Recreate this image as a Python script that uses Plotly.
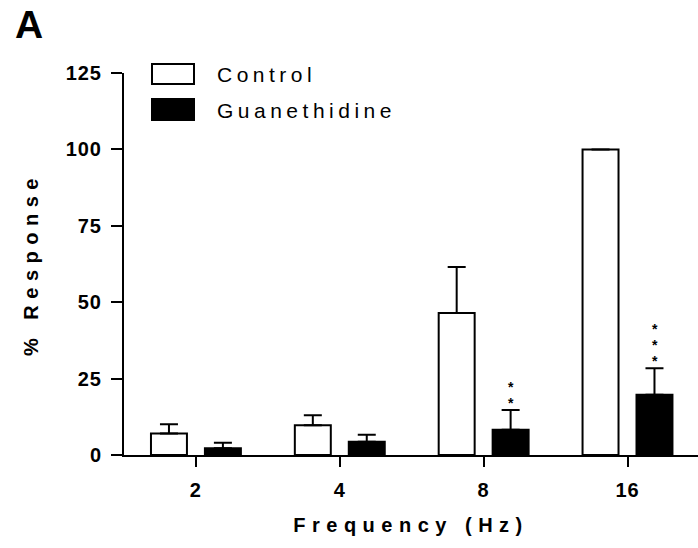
import plotly.graph_objects as go

# ---- data ----
frequencies = ["2", "4", "8", "16"]
control_mean = [7.0, 9.7, 46.5, 100.0]
control_sem = [3.1, 3.3, 15.0, 0.0]
guan_mean = [2.2, 4.3, 8.3, 19.7]
guan_sem = [1.8, 2.3, 6.4, 8.7]
guan_sig = ["", "", "**", "***"]
y_ticks = [0, 25, 50, 75, 100, 125]
series_names = ["Control", "Guanethidine"]

W, H = 698, 548
L, R, T, B = 124, 0, 73, 548 - 455
pw, ph = W - L - R, H - T - B

def px_x(x):
    return (x - L) / pw

def px_y(y):
    return (H - B - y) / ph

xpos = list(range(len(frequencies)))

tick_font = dict(family="Liberation Sans, Arial", size=20, color="black", weight="bold")
title_font = dict(family="Liberation Sans, Arial", size=20, color="black", weight="bold")

fig = go.Figure()
fig.add_trace(go.Bar(
    x=xpos, y=control_mean, name=series_names[0],
    marker=dict(color="white", line=dict(color="black", width=2)),
    error_y=dict(type="data", array=control_sem, arrayminus=[0] * len(control_sem), symmetric=False,
                 color="black", thickness=2, width=9),
    showlegend=False,
))
fig.add_trace(go.Bar(
    x=xpos, y=guan_mean, name=series_names[1],
    marker=dict(color="black", line=dict(color="black", width=2)),
    error_y=dict(type="data", array=guan_sem, arrayminus=[0] * len(guan_sem), symmetric=False,
                 color="black", thickness=2, width=9),
    showlegend=False,
))

annotations = []
# significance stars above guanethidine bars (one stacked text per bar)
for i, (m, e, s) in enumerate(zip(guan_mean, guan_sem, guan_sig)):
    if s:
        annotations.append(dict(
            x=xpos[i], y=m + e, xref="x", yref="y", text="<br>".join(s), showarrow=False,
            xshift=27, yshift=-3, yanchor="bottom", xanchor="center",
            font=dict(family="Liberation Sans, Arial", size=14, color="black", weight="bold"),
        ))

# legend (drawn manually to match wide swatches)
legend_rows = [(64, 84, "white"), (99, 120, "black")]
shapes = []
for (y0, y1, col), name in zip(legend_rows, series_names):
    shapes.append(dict(type="rect", xref="paper", yref="paper",
                       x0=px_x(152), x1=px_x(194), y0=px_y(y1), y1=px_y(y0),
                       fillcolor=col, line=dict(color="black", width=2)))
    annotations.append(dict(x=px_x(215), y=px_y((y0 + y1) / 2 + 1), xref="paper", yref="paper",
                            text=name, showarrow=False, xanchor="left", yanchor="middle",
                            font=dict(family="Liberation Sans, Arial", size=21, color="black")))

# panel letter
annotations.append(dict(x=px_x(13), y=px_y(1), xref="paper", yref="paper", text="A",
                        showarrow=False, xanchor="left", yanchor="top",
                        font=dict(family="Liberation Sans, Arial", size=39, color="black", weight="bold")))

fig.update_layout(
    width=W, height=H,
    margin=dict(l=L, r=R, t=T, b=B),
    paper_bgcolor="white", plot_bgcolor="white",
    barmode="group", bargap=0.25, bargroupgap=1 / 3,
    annotations=annotations, shapes=shapes,
    xaxis=dict(range=[-0.5, 3.49], tickvals=xpos, ticktext=frequencies,
               showline=True, linecolor="black", linewidth=2,
               ticks="outside", ticklen=10, tickwidth=2, tickcolor="black", showgrid=False,
               zeroline=False, tickfont=tick_font, ticklabelstandoff=6,
               title=dict(text="Frequency (Hz)", font=title_font, standoff=18)),
    yaxis=dict(range=[0, 125], tickvals=y_ticks, showline=True, linecolor="black", linewidth=2,
               ticks="outside", ticklen=11, tickwidth=2, tickcolor="black", showgrid=False,
               zeroline=False, tickfont=tick_font, ticklabelstandoff=5,
               title=dict(text="% Response", font=title_font, standoff=25)),
)

post_script = """
document.body.style.margin = '0';
var gd = document.getElementById('{plot_id}');
function applySpacing(){
  gd.querySelectorAll('.xtitle, .ytitle').forEach(function(t){ t.style.letterSpacing = '6.5px'; });
  gd.querySelectorAll('.xtick text, .ytick text').forEach(function(t){ t.style.letterSpacing = '1px'; });
  gd.querySelectorAll('.annotation-text').forEach(function(t){
    if (t.dataset.spaced) { return; }
    var s = t.textContent;
    if (s === 'Control' || s === 'Guanethidine') {
      var w0 = t.getComputedTextLength();
      var x = parseFloat(t.getAttribute('x')) || 0;
      var anchor = t.getAttribute('text-anchor') || 'start';
      var left = anchor === 'middle' ? x - w0 / 2 : (anchor === 'end' ? x - w0 : x);
      t.setAttribute('text-anchor', 'start');
      t.setAttribute('x', left);
      t.style.letterSpacing = '4.5px';
      t.dataset.spaced = '1';
    } else if (/^[*]+$/.test(s)) {
      var lines = t.querySelectorAll('tspan.line');
      var n = lines.length;
      if (n > 1) {
        var f = parseFloat(window.getComputedStyle(t).fontSize) || 14;
        var y0 = parseFloat(lines[0].getAttribute('y'));
        if (isNaN(y0)) { y0 = parseFloat(t.getAttribute('y')) || 0; }
        var last = y0 + (n - 1) * 1.3 * f;
        var step = 16;
        lines.forEach(function(ln, i){
          ln.setAttribute('y', last - (n - 1 - i) * step);
          ln.setAttribute('dy', '0');
        });
      }
      t.dataset.spaced = '1';
    }
  });
}
applySpacing();
gd.on('plotly_afterplot', applySpacing);
"""

fig.write_html("out.html", post_script=post_script, config={"displayModeBar": False})
